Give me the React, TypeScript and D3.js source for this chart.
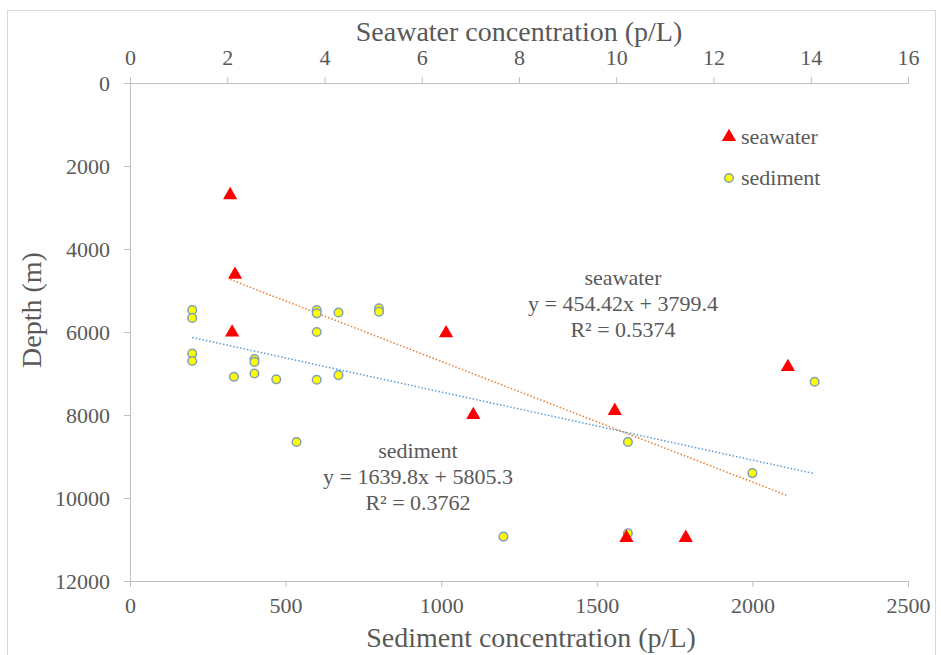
import { useEffect, useRef } from 'react';
import * as d3 from 'd3';

const WIDTH = 941;
const HEIGHT = 655;
const PLOT = { left: 130, right: 908, top: 83, bottom: 581 };
const FONT = '"Liberation Serif", "Times New Roman", serif';
const TEXT = '#595959';
const AXIS = '#bfbfbf';

const SED_TICKS = [0, 500, 1000, 1500, 2000, 2500];
const SW_TICKS = [0, 2, 4, 6, 8, 10, 12, 14, 16];
const DEPTH_TICKS = [0, 2000, 4000, 6000, 8000, 10000, 12000];

// seawater: top axis (p/L) vs depth (m)
const seawaterConc = [2.06, 2.16, 2.1, 6.5, 7.06, 9.97, 10.21, 11.43, 13.53];
const seawaterDepth = [2700, 4620, 6010, 6030, 8000, 7900, 10960, 10960, 6840];

// sediment: bottom axis (p/L) vs depth (m)
const sedimentConc = [200, 200, 200, 200, 334, 400, 400, 400, 470, 535, 600, 600, 600, 600, 670, 670, 800, 800, 1200, 1600, 1600, 2000, 2200];
const sedimentDepth = [5470, 5660, 6520, 6700, 7080, 6650, 6720, 7000, 7140, 8650, 5470, 5550, 6000, 7150, 5530, 7040, 5430, 5510, 10930, 8650, 10850, 9400, 7200];

// trend lines as printed on the chart (sediment x is in thousands of p/L)
const seawaterFit = { slope: 454.42, intercept: 3799.4, eq: 'y = 454.42x + 3799.4', r2: 'R² = 0.5374' };
const sedimentFit = { slope: 1639.8, intercept: 5805.3, eq: 'y = 1639.8x + 5805.3', r2: 'R² = 0.3762' };

export default function App() {
  const svgRef = useRef<SVGSVGElement>(null);

  useEffect(() => {
    const svg = d3.select(svgRef.current);
    svg.selectAll('*').remove();

    const xSed = d3.scaleLinear().domain([0, 2500]).range([PLOT.left, PLOT.right]);
    const xSw = d3.scaleLinear().domain([0, 16]).range([PLOT.left, PLOT.right]);
    const y = d3.scaleLinear().domain([0, 12000]).range([PLOT.top, PLOT.bottom]);
    const fmt = d3.format('d');

    // chart frame
    svg.append('rect')
      .attr('x', 7.5).attr('y', 10.5)
      .attr('width', 928).attr('height', 700)
      .attr('fill', '#fff').attr('stroke', '#d9d9d9');

    const styleAxis = (g) => {
      g.selectAll('.domain, .tick line').attr('stroke', AXIS);
      g.selectAll('text')
        .style('font-family', FONT)
        .style('font-size', '22px')
        .attr('fill', TEXT);
    };

    // axes
    svg.append('g')
      .attr('transform', `translate(0,${PLOT.bottom})`)
      .call(d3.axisBottom(xSed).tickValues(SED_TICKS).tickFormat(fmt).tickSize(6).tickSizeOuter(6).tickPadding(10))
      .call(styleAxis);

    svg.append('g')
      .attr('transform', `translate(0,${PLOT.top})`)
      .call(d3.axisTop(xSw).tickValues(SW_TICKS).tickFormat(fmt).tickSize(6).tickSizeOuter(6).tickPadding(12))
      .call(styleAxis);

    svg.append('g')
      .attr('transform', `translate(${PLOT.left},0)`)
      .call(d3.axisLeft(y).tickValues(DEPTH_TICKS).tickFormat(fmt).tickSize(6).tickSizeOuter(6).tickPadding(14))
      .call(styleAxis);

    // axis titles
    svg.append('text')
      .attr('x', 519).attr('y', 41)
      .attr('text-anchor', 'middle')
      .style('font-family', FONT).style('font-size', '28px').attr('fill', TEXT)
      .text('Seawater concentration (p/L)');
    svg.append('text')
      .attr('x', 531).attr('y', 647)
      .attr('text-anchor', 'middle')
      .style('font-family', FONT).style('font-size', '28px').attr('fill', TEXT)
      .text('Sediment concentration (p/L)');
    svg.append('text')
      .attr('transform', 'translate(41,310) rotate(-90)')
      .attr('text-anchor', 'middle')
      .style('font-family', FONT).style('font-size', '28px').attr('fill', TEXT)
      .text('Depth (m)');

    // trend lines
    const swExtent = d3.extent(seawaterConc);
    svg.append('line')
      .attr('x1', xSw(swExtent[0])).attr('x2', xSw(swExtent[1]))
      .attr('y1', y(seawaterFit.slope * swExtent[0] + seawaterFit.intercept))
      .attr('y2', y(seawaterFit.slope * swExtent[1] + seawaterFit.intercept))
      .attr('stroke', '#ed7d31').attr('stroke-width', 1.5).attr('stroke-dasharray', '1.5,2');

    const sedExtent = d3.extent(sedimentConc);
    svg.append('line')
      .attr('x1', xSed(sedExtent[0])).attr('x2', xSed(sedExtent[1]))
      .attr('y1', y(sedimentFit.slope * sedExtent[0] / 1000 + sedimentFit.intercept))
      .attr('y2', y(sedimentFit.slope * sedExtent[1] / 1000 + sedimentFit.intercept))
      .attr('stroke', '#5b9bd5').attr('stroke-width', 1.5).attr('stroke-dasharray', '1.5,2');

    // sediment points
    svg.append('g')
      .selectAll('circle')
      .data(sedimentConc.map((c, i) => [c, sedimentDepth[i]]))
      .join('circle')
      .attr('cx', (d) => xSed(d[0]))
      .attr('cy', (d) => y(d[1]))
      .attr('r', 4.3)
      .attr('fill', '#ffff00')
      .attr('stroke', '#7f9fb8')
      .attr('stroke-width', 1.5);

    // seawater points
    const tri = d3.symbol().type(d3.symbolTriangle).size(88);
    svg.append('g')
      .selectAll('path')
      .data(seawaterConc.map((c, i) => [c, seawaterDepth[i]]))
      .join('path')
      .attr('d', tri)
      .attr('transform', (d) => `translate(${xSw(d[0])},${y(d[1])})`)
      .attr('fill', '#ff0000');

    // annotations
    const note = (x, y0, lines) => {
      lines.forEach((t, i) => {
        svg.append('text')
          .attr('x', x).attr('y', y0 + i * 26)
          .attr('text-anchor', 'middle')
          .style('font-family', FONT).style('font-size', '22px').attr('fill', TEXT)
          .text(t);
      });
    };
    note(623, 285, ['seawater', seawaterFit.eq, seawaterFit.r2]);
    note(418, 458, ['sediment', sedimentFit.eq, sedimentFit.r2]);

    // legend
    const legend = svg.append('g');
    legend.append('path')
      .attr('d', tri)
      .attr('transform', 'translate(729,137)')
      .attr('fill', '#ff0000');
    legend.append('text')
      .attr('x', 741).attr('y', 144)
      .style('font-family', FONT).style('font-size', '22px').attr('fill', TEXT)
      .text('seawater');
    legend.append('circle')
      .attr('cx', 729).attr('cy', 178).attr('r', 4.3)
      .attr('fill', '#ffff00').attr('stroke', '#7f9fb8').attr('stroke-width', 1.5);
    legend.append('text')
      .attr('x', 741).attr('y', 185)
      .style('font-family', FONT).style('font-size', '22px').attr('fill', TEXT)
      .text('sediment');
  }, []);

  return (
    <svg
      ref={svgRef}
      width={WIDTH}
      height={HEIGHT}
      style={{ position: 'absolute', left: 0, top: 0, background: '#fff' }}
    />
  );
}
